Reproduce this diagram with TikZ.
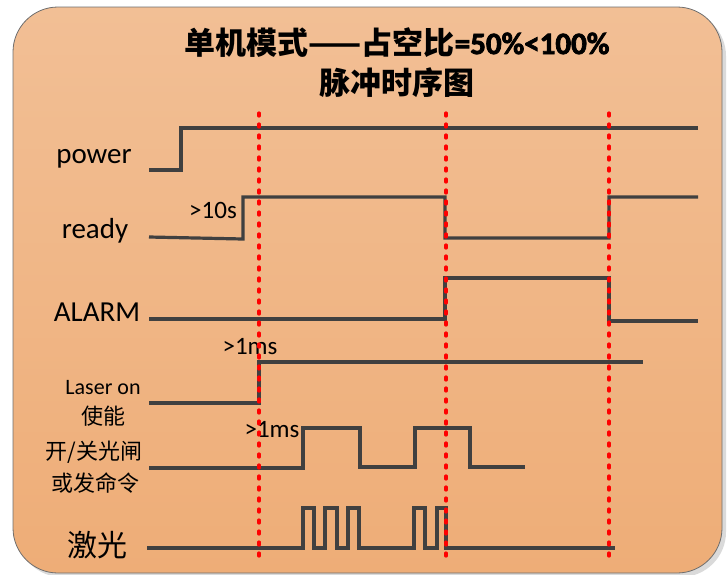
\documentclass[tikz,border=0pt]{standalone}
\usepackage{fontspec}
\setmainfont{Carlito}
\newfontfamily\cjk{Noto Sans CJK SC}
\newfontfamily\headlatin{Carlito}[FakeBold=2.5]
\usetikzlibrary{positioning}
\usepackage{xcolor}
\definecolor{ink}{HTML}{404040}
\definecolor{mark}{HTML}{FF0000}
\definecolor{paperhi}{HTML}{F2BF95}
\definecolor{paperlo}{HTML}{EEAD77}
\definecolor{edge}{HTML}{6E6E6E}
\definecolor{shade}{HTML}{DADADA}
\tikzset{
  board/.style={draw=edge,line width=0.8pt,rounded corners=45pt,top color=paperhi,bottom color=paperlo},
  shadowbox/.style={fill=shade,rounded corners=45pt},
  wave/.style={draw=ink,line width=3.2pt,line join=miter},
  cut/.style={draw=mark,line width=3.2pt,line cap=round,dash pattern=on 3pt off 8pt},
  sig/.style={anchor=base,inner sep=0pt,font=\fontsize{29}{29}\selectfont},
  sigsmall/.style={anchor=base,inner sep=0pt,font=\fontsize{22}{22}\selectfont},
  delay/.style={anchor=base,inner sep=0pt,font=\fontsize{25}{25}\selectfont},
  headline/.style={anchor=base,inner sep=0pt,font=\fontsize{31}{31}\selectfont\bfseries}
}

\begin{document}
\begin{tikzpicture}[x=1pt,y=-1pt]
\useasboundingbox (0,0) rectangle (728,574);
% frame
\path[shadowbox] (17,11) rectangle (726,577);
\path[board] (13,7) rectangle (722,573);
% title
\node[headline] (t1) at (397,54) {{\cjk 单机模式——占空比}{\headlatin =50\%<100\%}};
\node[headline] (t2) at (397,94) {\cjk 脉冲时序图};
% signal names
\node[sig] (power) at (94,163) {power};
\node[sig] (ready) at (95,238) {ready};
\node[sig] (alarm) at (97,321) {ALARM};
\node[sigsmall] (laseron) at (103,394) {Laser on};
\node[sigsmall] (enable) at (103,424) {\cjk 使能};
\node[sigsmall] (shutter) at (94,459) {\cjk 开/关光闸};
\node[sigsmall] (command) at (95,491) {\cjk 或发命令};
\node[sig,font=\fontsize{30}{30}\selectfont] (laser) at (97,556) {\cjk 激光};
% delays
\node[delay] (d10s) at (213,218) {>10s};
\node[delay] (d1ms) at (250,354) {>1ms};
\node[delay] (d1msb) at (272,437) {>1ms};
% waveforms
\draw[wave] (149,170) -- (181,170) -- (181,128) -- (698,128);
\draw[wave] (149,237) -- (243,239) -- (243,197) -- (445,197) -- (445,238) -- (609,238) -- (609,197) -- (698,197);
\draw[wave] (149,319) -- (445,319) -- (445,278) -- (609,278) -- (609,321) -- (698,321);
\draw[wave] (149,403) -- (259,403) -- (259,362) -- (643,362);
\draw[wave] (149,468) -- (303,468) -- (303,428) -- (360,428) -- (360,467) -- (415,467) -- (415,428) -- (470,428) -- (470,467) -- (525,467);
\draw[wave] (147,548) -- (303,548)
  -- (303,508) -- (314,508) -- (314,548) -- (325,548)
  -- (325,508) -- (337,508) -- (337,548) -- (348,548)
  -- (348,508) -- (359,508) -- (359,548) -- (414,548)
  -- (414,508) -- (425,508) -- (425,548) -- (437,548)
  -- (437,508) -- (446,508) -- (446,548) -- (615,548);
% markers
\foreach \x in {259,446,609}
  \draw[cut] (\x,113) -- (\x,562);
\end{tikzpicture}
\end{document}
